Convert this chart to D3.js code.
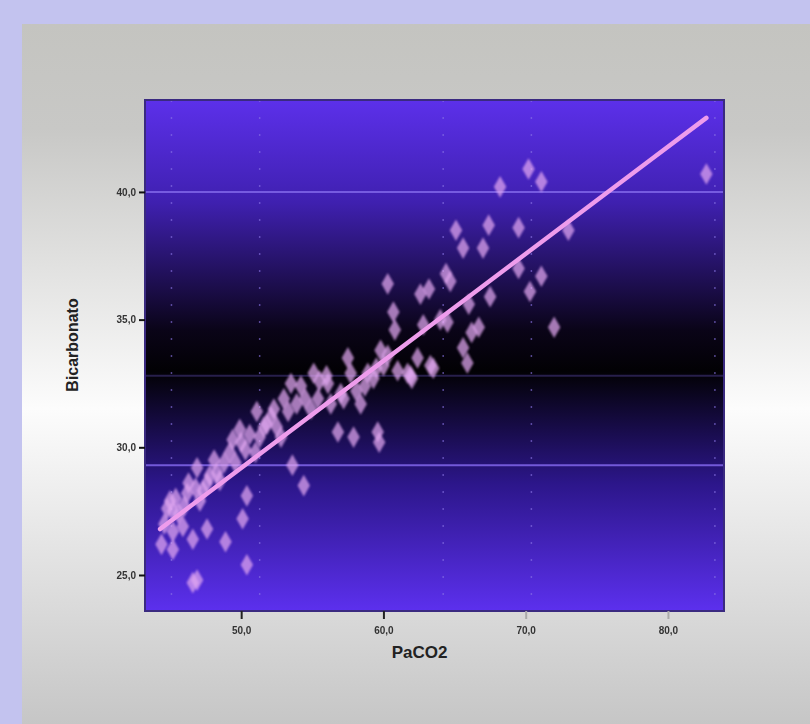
<!DOCTYPE html>
<html lang="en">
<head>
    <meta charset="UTF-8">
    <title>Bicarbonato vs PaCO2</title>
    <style>
        body { margin: 0; background: #c3c3ef; }
        svg { display: block; }
        .axis text { font-family: "Liberation Sans", Arial, sans-serif; font-weight: bold; font-size: 10px; fill: #333; }
        .title { font-family: "Liberation Sans", Arial, sans-serif; font-weight: bold; fill: #222; }
    </style>
</head>
<body>
<div id="chart"></div>
<script src="https://cdn.jsdelivr.net/npm/d3@7"></script>
<script>

    // PaCO2 (x) and bicarbonato (y)
    var paco2 = [82.7, 68.2, 70.2, 71.1, 73.0, 65.1, 67.4, 69.5, 65.6, 67.0, 64.4, 64.7, 71.1, 69.5, 70.3,
        60.3, 62.6, 63.2, 60.7, 60.8, 66.7, 72.0, 65.6, 65.9, 63.3, 61.9, 62.0, 59.8, 60.3, 57.5, 61.7, 63.5,
        53.5, 54.2, 55.1, 56.1, 57.0, 58.4, 56.0, 55.5, 57.7, 58.7, 59.3, 51.1, 52.3, 51.6, 49.9, 49.4, 52.8,
        56.8, 57.9, 59.6, 59.7, 53.6, 54.4, 46.9, 46.2, 47.6, 48.3, 45.2, 45.9, 45.2, 47.6, 46.6, 45.2, 50.4,
        50.1, 48.9, 50.4, 46.6, 46.9,
        44.4, 44.6, 44.8, 45.0, 45.4, 45.6, 46.0, 46.3, 46.8, 47.1, 47.3, 47.8, 48.1, 48.5, 48.8, 49.2, 49.6,
        50.0, 50.3, 50.6, 51.0, 51.3, 51.8, 52.1, 52.5, 53.0, 53.3, 53.9, 54.5, 54.9, 55.4, 56.3, 57.2, 58.1,
        58.9, 59.5, 60.0, 61.0, 62.4, 64.0, 66.0, 64.5, 67.5, 66.2, 62.8];
    var bicarb = [40.7, 40.2, 40.9, 40.4, 38.5, 38.5, 38.7, 38.6, 37.8, 37.8, 36.8, 36.5, 36.7, 37.0, 36.1,
        36.4, 36.0, 36.2, 35.3, 34.6, 34.7, 34.7, 33.9, 33.3, 33.2, 32.8, 32.7, 33.8, 33.6, 33.5, 32.9, 33.1,
        32.5, 32.4, 32.9, 32.5, 32.1, 31.7, 32.8, 32.6, 32.9, 32.4, 32.7, 31.4, 31.5, 30.8, 30.7, 30.3, 30.4,
        30.6, 30.4, 30.6, 30.2, 29.3, 28.5, 29.2, 28.2, 28.6, 29.0, 27.5, 26.9, 26.7, 26.8, 26.4, 26.0, 28.1,
        27.2, 26.3, 25.4, 24.7, 24.8,
        26.2, 27.0, 27.6, 27.9, 28.0, 27.4, 27.7, 28.6, 28.4, 27.9, 28.3, 28.9, 29.5, 28.7, 29.4, 29.8, 29.4,
        30.2, 29.9, 30.5, 29.8, 30.4, 30.9, 31.2, 30.8, 31.9, 31.4, 31.7, 31.9, 31.5, 31.9, 31.7, 31.9, 32.2,
        32.9, 33.1, 33.2, 33.0, 33.5, 35.0, 35.6, 34.9, 35.9, 34.5, 34.8];

    // fitted line end points
    var fitX = [44.3, 82.7];
    var fitY = [26.8, 42.9];

    var xTicks = [50, 60, 70, 80];
    var yTicks = [25, 30, 35, 40];
    var refLines = [40.0, 32.8, 29.3];          // light horizontal lines
    var dotLines = [45.1, 51.3, 64.2, 70.4, 83.3]; // dotted vertical lines

    var width = 810,
        height = 724;

    var svg = d3.select("#chart").append("svg")
        .attr("width", width)
        .attr("height", height);

    var defs = svg.append("defs");

    var panelGrad = defs.append("linearGradient")
        .attr("id", "panelGrad")
        .attr("x1", 0).attr("y1", 0).attr("x2", 0).attr("y2", 1);
    panelGrad.append("stop").attr("offset", "0%").attr("stop-color", "#c4c4c0");
    panelGrad.append("stop").attr("offset", "15%").attr("stop-color", "#c8c8c6");
    panelGrad.append("stop").attr("offset", "55%").attr("stop-color", "#fcfcfc");
    panelGrad.append("stop").attr("offset", "100%").attr("stop-color", "#c6c6c6");

    var plotGrad = defs.append("linearGradient")
        .attr("id", "plotGrad")
        .attr("x1", 0).attr("y1", 0).attr("x2", 0).attr("y2", 1);
    plotGrad.append("stop").attr("offset", "0%").attr("stop-color", "#5c30ea");
    plotGrad.append("stop").attr("offset", "20%").attr("stop-color", "#3f20b0");
    plotGrad.append("stop").attr("offset", "45%").attr("stop-color", "#0a0418");
    plotGrad.append("stop").attr("offset", "53%").attr("stop-color", "#020104");
    plotGrad.append("stop").attr("offset", "75%").attr("stop-color", "#2c168a");
    plotGrad.append("stop").attr("offset", "100%").attr("stop-color", "#5c30ee");

    var blur = defs.append("filter").attr("id", "soft");
    blur.append("feGaussianBlur").attr("stdDeviation", 1.2);

    // outer panel
    svg.append("rect")
        .attr("x", 22).attr("y", 24)
        .attr("width", width - 22).attr("height", height - 24)
        .attr("fill", "url(#panelGrad)");

    var margin = {left: 145, top: 100, right: 86, bottom: 113};
    var pw = width - margin.left - margin.right,
        ph = height - margin.top - margin.bottom;

    var x = d3.scaleLinear().domain([43.24, 83.94]).range([0, pw]);
    var y = d3.scaleLinear().domain([23.59, 43.6]).range([ph, 0]);

    var g = svg.append("g")
        .attr("transform", "translate(" + margin.left + "," + margin.top + ")");

    g.append("rect")
        .attr("width", pw).attr("height", ph)
        .attr("fill", "url(#plotGrad)");

    g.selectAll(".ref")
        .data(refLines)
        .enter().append("line")
        .attr("class", "ref")
        .attr("x1", 0).attr("x2", pw)
        .attr("y1", function (d) { return y(d); })
        .attr("y2", function (d) { return y(d); })
        .attr("stroke", "#7c62e4")
        .attr("stroke-opacity", function (d, i) { return i == 1 ? 0.3 : 0.9; })
        .attr("stroke-width", 2);

    g.selectAll(".dot")
        .data(dotLines)
        .enter().append("line")
        .attr("class", "dot")
        .attr("y1", 0).attr("y2", ph)
        .attr("x1", function (d) { return x(d); })
        .attr("x2", function (d) { return x(d); })
        .attr("stroke", "#8a74e6")
        .attr("stroke-opacity", 0.6)
        .attr("stroke-width", 1.5)
        .attr("stroke-dasharray", "2,15");

    var points = paco2.map(function (d, i) { return [d, bicarb[i]]; });

    g.append("g")
        .attr("filter", "url(#soft)")
        .selectAll("path")
        .data(points)
        .enter().append("path")
        .attr("d", d3.symbol().type(d3.symbolDiamond).size(135))
        .attr("transform", function (d) { return "translate(" + x(d[0]) + "," + y(d[1]) + ")"; })
        .attr("fill", "#e0a6f0")
        .attr("fill-opacity", 0.72);

    g.append("line")
        .attr("x1", x(fitX[0])).attr("y1", y(fitY[0]))
        .attr("x2", x(fitX[1])).attr("y2", y(fitY[1]))
        .attr("stroke", "#ee9cec")
        .attr("stroke-width", 4.5)
        .attr("stroke-linecap", "round");

    g.append("rect")
        .attr("width", pw).attr("height", ph)
        .attr("fill", "none")
        .attr("stroke", "#3a2a80")
        .attr("stroke-width", 2);

    var fmt = function (d) { return d3.format(".1f")(d).replace(".", ","); };

    var yAxis = g.append("g")
        .attr("class", "axis")
        .call(d3.axisLeft(y).tickValues(yTicks).tickSize(6).tickPadding(3).tickFormat(fmt));
    yAxis.select(".domain").remove();
    yAxis.selectAll("line").attr("stroke", "#111").attr("stroke-width", 2);

    var xAxis = g.append("g")
        .attr("class", "axis")
        .attr("transform", "translate(0," + ph + ")")
        .call(d3.axisBottom(x).tickValues(xTicks).tickSize(8).tickPadding(8).tickFormat(fmt));
    xAxis.select(".domain").remove();
    xAxis.selectAll("line")
        .attr("stroke", function (d) { return d < 65 ? "#222" : "#aaa"; })
        .attr("stroke-width", 2);

    svg.append("text")
        .attr("class", "title")
        .attr("x", margin.left + pw / 2 - 15).attr("y", 658)
        .attr("text-anchor", "middle")
        .attr("font-size", "17px")
        .text("PaCO2");

    svg.append("text")
        .attr("class", "title")
        .attr("transform", "translate(78,345) rotate(-90)")
        .attr("text-anchor", "middle")
        .attr("font-size", "16px")
        .text("Bicarbonato");

</script>
</body>
</html>
